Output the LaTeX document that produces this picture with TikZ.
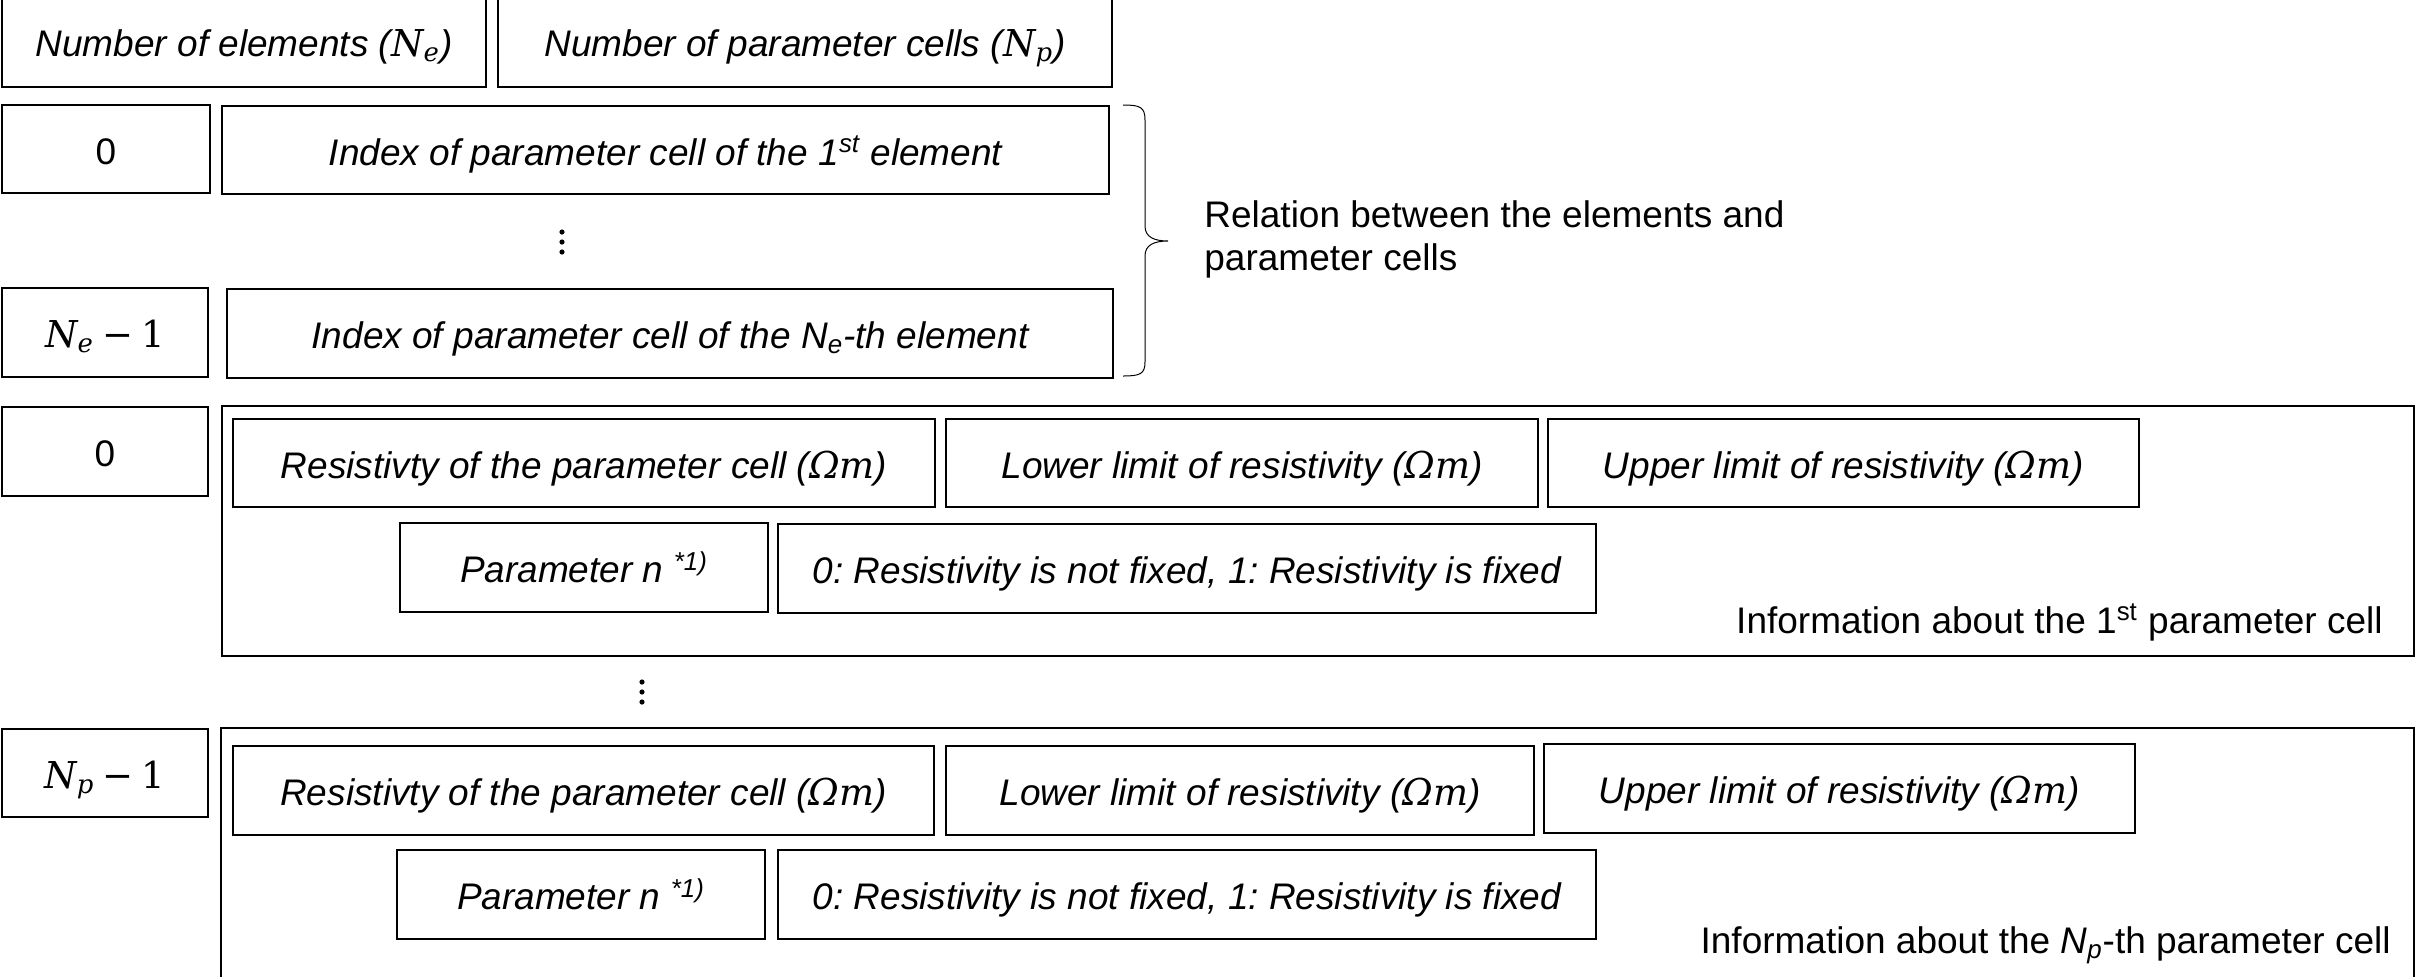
\documentclass[tikz,border=0pt]{standalone}
\usepackage{fontspec}
\setmainfont{Liberation Sans}
\newfontfamily\mf{DejaVu Serif}
\newcommand\bigf{\fontsize{18.5}{22}\selectfont\frenchspacing}
\newcommand\mvar[1]{{\mf\itshape #1}}
\newcommand\msub[2]{\mvar{#1}\textsubscript{\mvar{#2}}}
\newcommand\cellbox[7]{%
  \node[#1, minimum width={(#5-#3)*0.5pt}, minimum height={(#6-#4)*0.5pt}] (#2) at ({(#3+#5)/2},{(#4+#6)/2}) {#7};}
\tikzset{
  cell/.style={draw, line width=0.9pt, inner sep=0pt, text height=19.2pt, text depth=4pt, font=\bigf\itshape},
  numcell/.style={draw, line width=0.9pt, inner sep=0pt, text height=19.2pt, text depth=4pt, font=\bigf},
  frame/.style={draw, line width=0.9pt, inner sep=0pt},
  lbl/.style={inner sep=0pt, font=\bigf},
  dotmark/.style={fill, circle, inner sep=0pt, minimum size=2.6pt},
  bracepath/.style={draw, line width=0.5pt}
}
\begin{document}
\begin{tikzpicture}[x=0.5pt, y=-0.5pt]
\useasboundingbox (0,0) rectangle (2417,976);
% header
\cellbox{cell}{ne}{2}{-5}{486}{87}{Number of elements (\msub{N}{e})}
\cellbox{cell}{np}{498}{-5}{1112}{87}{Number of parameter cells (\msub{N}{p})}
% element relation
\cellbox{numcell}{z0}{2}{105}{210}{193}{0}
\cellbox{cell}{i1}{222}{106}{1109}{194}{Index of parameter cell of the 1\textsuperscript{st} element}
\node[dotmark] (d1a) at (562,232) {};
\node[dotmark] (d1b) at (562,242) {};
\node[dotmark] (d1c) at (562,252) {};
\cellbox{numcell}{ze}{2}{288}{208}{377}{\msub{N}{e}\hspace{0.22em}{\mf −}\hspace{0.22em}{\mf 1}}
\cellbox{cell}{ie}{227}{289}{1113}{378}{Index of parameter cell of the N\textsubscript{e}-th element}
% brace
\coordinate (bt) at (1123,105);
\coordinate (bm) at (1168,241);
\coordinate (bb) at (1123,376);
\draw[bracepath] (bt) .. controls (1140,105) and (1145,107) .. (1145,120) -- (1145,226)
  .. controls (1145,237) and (1154,241) .. (bm)
  .. controls (1154,241) and (1145,245) .. (1145,256) -- (1145,362)
  .. controls (1145,374) and (1140,376) .. (bb);
\node[lbl, anchor=base west] (rel1) at (1204,227) {Relation between the elements and};
\node[lbl, anchor=base west] (rel2) at (1204,270) {parameter cells};
% first parameter cell
\cellbox{numcell}{p0}{2}{407}{208}{496}{0}
\cellbox{frame}{o1}{222}{406}{2414}{656}{}
\cellbox{cell}{r1}{233}{419}{935}{507}{Resistivty of the parameter cell (\mvar{Ωm})}
\cellbox{cell}{l1}{946}{419}{1538}{507}{Lower limit of resistivity (\mvar{Ωm})}
\cellbox{cell}{u1}{1548}{419}{2139}{507}{Upper limit of resistivity (\mvar{Ωm})}
\cellbox{cell}{n1}{400}{523}{768}{612}{Parameter n \textsuperscript{*1)}}
\cellbox{cell}{f1}{778}{524}{1596}{613}{0: Resistivity is not fixed, 1: Resistivity is fixed}
\node[lbl, anchor=base east] (info1) at (2383,633) {Information about the 1\textsuperscript{st} parameter cell};
\node[dotmark] (d2a) at (642,682) {};
\node[dotmark] (d2b) at (642,692) {};
\node[dotmark] (d2c) at (642,702) {};
% last parameter cell
\cellbox{numcell}{p1}{2}{729}{208}{817}{\msub{N}{p}\hspace{0.22em}{\mf −}\hspace{0.22em}{\mf 1}}
\cellbox{frame}{o2}{221}{728}{2414}{985}{}
\cellbox{cell}{r2}{233}{746}{934}{835}{Resistivty of the parameter cell (\mvar{Ωm})}
\cellbox{cell}{l2}{946}{746}{1534}{835}{Lower limit of resistivity (\mvar{Ωm})}
\cellbox{cell}{u2}{1544}{744}{2135}{833}{Upper limit of resistivity (\mvar{Ωm})}
\cellbox{cell}{n2}{397}{850}{765}{939}{Parameter n \textsuperscript{*1)}}
\cellbox{cell}{f2}{778}{850}{1596}{939}{0: Resistivity is not fixed, 1: Resistivity is fixed}
\node[lbl, anchor=base east] (info2) at (2391,953) {Information about the \textit{N}\textsubscript{\textit{p}}-th parameter cell};
\end{tikzpicture}
\end{document}
